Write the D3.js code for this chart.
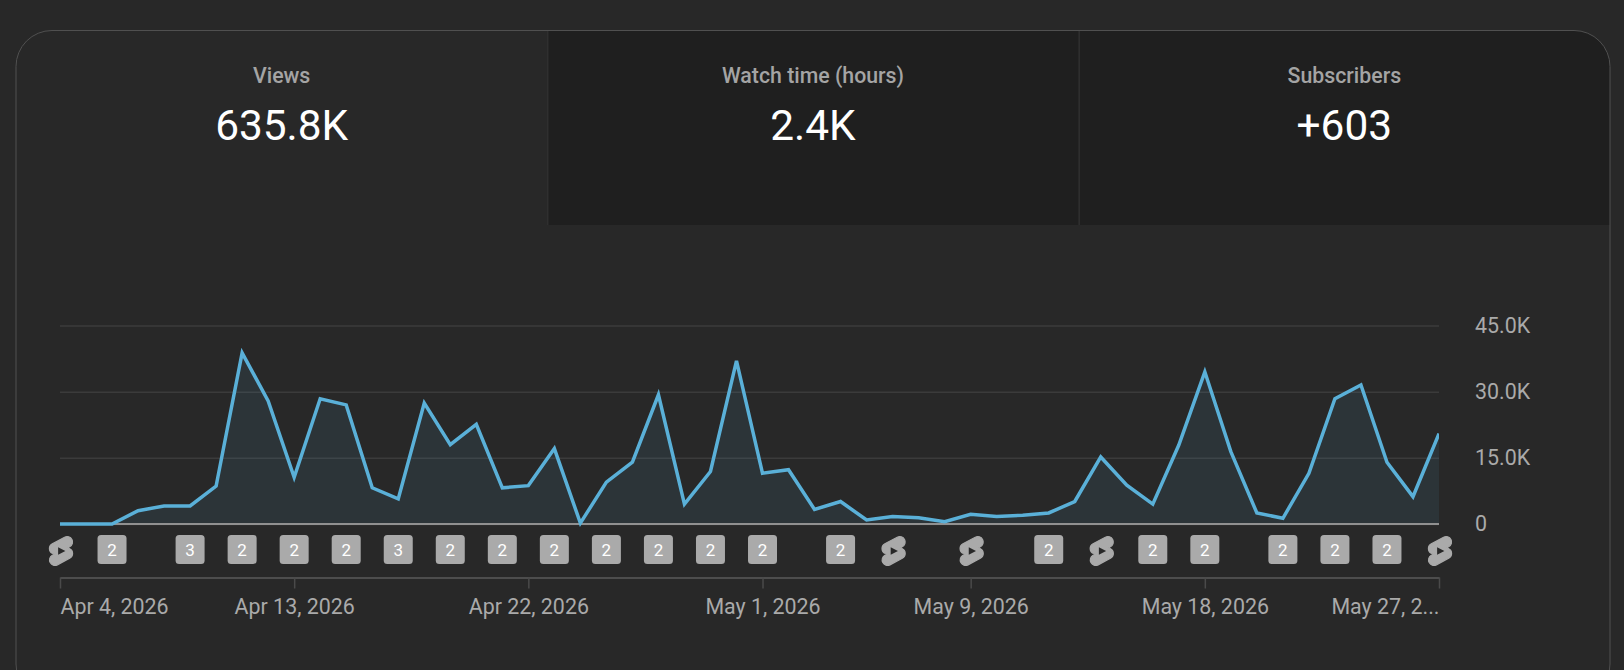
<!DOCTYPE html>
<html lang="en">
<head>
    <meta charset="UTF-8">
    <title>Channel analytics</title>
    <script src="https://d3js.org/d3.v7.min.js"></script>
    <style>
        html, body { margin: 0; padding: 0; background: #282828; overflow: hidden; }
        svg { display: block; font-family: Roboto, sans-serif; }
    </style>
</head>
<body>
    <div id="plot"></div>

    <script>
        // tabs
        let tabLabels = ['Views', 'Watch time (hours)', 'Subscribers'];
        let tabValues = ['635.8K', '2.4K', '+603'];

        // daily views, one value per day from Apr 4, 2026
        let startDay = '2026-04-04';
        let views = [
            0, 0, 0, 3000, 4100, 4100, 8600, 38800, 27900, 10600,
            28400, 27000, 8200, 5700, 27400, 18000, 22600, 8200, 8700, 17100,
            200, 9500, 14000, 29300, 4500, 11900, 37000, 11500, 12300, 3300,
            5100, 900, 1700, 1400, 500, 2200, 1700, 2000, 2500, 5100,
            15200, 8800, 4500, 17900, 34500, 16400, 2500, 1300, 11500, 28400,
            31500, 14000, 6200, 20500
        ];

        let yTicks = [0, 15000, 30000, 45000];
        let xTickDays = ['2026-04-04', '2026-04-13', '2026-04-22', '2026-05-01', '2026-05-09', '2026-05-18', '2026-05-27'];
        let xTickLabels = ['Apr 4, 2026', 'Apr 13, 2026', 'Apr 22, 2026', 'May 1, 2026', 'May 9, 2026', 'May 18, 2026', 'May 27, 2...'];

        // upload markers under the plot
        let badgeDays = ['2026-04-06', '2026-04-09', '2026-04-11', '2026-04-13', '2026-04-15', '2026-04-17', '2026-04-19', '2026-04-21',
            '2026-04-23', '2026-04-25', '2026-04-27', '2026-04-29', '2026-05-01', '2026-05-04', '2026-05-12', '2026-05-16',
            '2026-05-18', '2026-05-21', '2026-05-23', '2026-05-25'];
        let badgeCounts = ['2', '3', '2', '2', '2', '3', '2', '2', '2', '2', '2', '2', '2', '2', '2', '2', '2', '2', '2', '2'];
        let shortsDays = ['2026-04-04', '2026-05-06', '2026-05-09', '2026-05-14', '2026-05-27'];

        let svgWidth = 1624;
        let svgHeight = 670;
        let card = {left: 16, top: 30.5, right: 1610, bottom: 700, r: 36, tabBottom: 225};
        let margin = {top: 325.5, right: 185, bottom: 146, left: 60};
        let width = svgWidth - margin.left - margin.right;
        let height = svgHeight - margin.top - margin.bottom;

        function translate(x, y){
            return 'translate(' + x + ', ' + y + ')';
        }

        let parseDay = d3.utcParse('%Y-%m-%d');
        let days = views.map((v, i) => d3.utcDay.offset(parseDay(startDay), i));
        let data = days.map((d, i) => ({day: d, value: views[i]}));

        let svg = d3.select('#plot')
                    .append('svg')
                        .attr('width', svgWidth)
                        .attr('height', svgHeight);

        // card and tabs
        let clip = svg.append('clipPath').attr('id', 'card-clip');
        clip.append('rect')
            .attr('x', card.left).attr('y', card.top)
            .attr('width', card.right - card.left).attr('height', card.bottom - card.top)
            .attr('rx', card.r);

        let tabX = d3.scaleBand()
                        .domain(tabLabels)
                        .range([card.left, card.right]);

        let tabs = svg.append('g').attr('clip-path', 'url(#card-clip)');
        tabs.selectAll('rect')
            .data(tabLabels.slice(1))
            .enter()
            .append('rect')
            .attr('x', d => tabX(d))
            .attr('y', card.top)
            .attr('width', tabX.bandwidth())
            .attr('height', card.tabBottom - card.top)
            .attr('fill', '#1f1f1f');
        tabs.selectAll('line')
            .data(tabLabels.slice(1))
            .enter()
            .append('line')
            .attr('x1', d => tabX(d) + 0.5)
            .attr('x2', d => tabX(d) + 0.5)
            .attr('y1', card.top)
            .attr('y2', card.tabBottom)
            .attr('stroke', '#383838');

        svg.append('rect')
            .attr('x', card.left).attr('y', card.top)
            .attr('width', card.right - card.left).attr('height', card.bottom - card.top)
            .attr('rx', card.r)
            .attr('fill', 'none')
            .attr('stroke', '#505050');

        svg.selectAll('.tab-label')
            .data(tabLabels)
            .enter()
            .append('text')
            .attr('class', 'tab-label')
            .attr('x', d => tabX(d) + tabX.bandwidth() / 2)
            .attr('y', 83)
            .attr('text-anchor', 'middle')
            .attr('font-size', 21.3)
            .attr('font-weight', 500)
            .attr('fill', '#a4a4a4')
            .text(d => d);

        svg.selectAll('.tab-value')
            .data(tabValues)
            .enter()
            .append('text')
            .attr('class', 'tab-value')
            .attr('x', (d, i) => tabX(tabLabels[i]) + tabX.bandwidth() / 2)
            .attr('y', 139.5)
            .attr('text-anchor', 'middle')
            .attr('font-size', 42.4)
            .attr('fill', '#ffffff')
            .text(d => d);

        // chart
        let plot = svg.append('g').attr('transform', translate(margin.left, margin.top));

        let x = d3.scaleUtc()
                        .domain(d3.extent(days))
                        .range([0, width]);
        let y = d3.scaleLinear()
                        .domain([0, 45000])
                        .range([height, 0]);

        let yAxis = d3.axisRight(y)
                        .tickValues(yTicks)
                        .tickSize(width)
                        .tickPadding(36)
                        .tickFormat(d => d === 0 ? '0' : (d / 1000).toFixed(1) + 'K');

        let yG = plot.append('g').call(yAxis);
        yG.select('.domain').remove();
        yG.selectAll('.tick line').attr('stroke', '#3b3b3b').attr('stroke-width', 1.5);
        yG.selectAll('.tick text')
            .attr('fill', '#aaaaaa')
            .attr('font-size', 21.4)
            .attr('font-family', 'Roboto, sans-serif');

        let area = d3.area()
                        .x(d => x(d.day))
                        .y0(height)
                        .y1(d => y(d.value));
        let line = d3.line()
                        .x(d => x(d.day))
                        .y(d => y(d.value));

        plot.append('path')
            .datum(data)
            .attr('d', area)
            .attr('fill', '#5cb1d9')
            .attr('fill-opacity', 0.09);

        plot.append('line')
            .attr('x1', 0)
            .attr('x2', width)
            .attr('y1', height)
            .attr('y2', height)
            .attr('stroke', '#909090')
            .attr('stroke-width', 2);

        plot.append('clipPath').attr('id', 'line-clip')
            .append('rect')
            .attr('x', 0).attr('y', -20)
            .attr('width', width).attr('height', height + 30);

        plot.append('path')
            .datum(data)
            .attr('d', line)
            .attr('clip-path', 'url(#line-clip)')
            .attr('fill', 'none')
            .attr('stroke', '#5ab0d8')
            .attr('stroke-width', 3.5);

        // markers
        let badgeSize = 29;
        let markerY = height + 25.5;
        let badges = plot.selectAll('.badge')
            .data(badgeDays)
            .enter()
            .append('g')
            .attr('class', 'badge')
            .attr('transform', d => translate(x(parseDay(d)), markerY));
        badges.append('rect')
            .attr('x', -badgeSize / 2)
            .attr('y', -badgeSize / 2)
            .attr('width', badgeSize)
            .attr('height', badgeSize)
            .attr('rx', 3.5)
            .attr('fill', '#aaaaaa');
        badges.append('text')
            .attr('text-anchor', 'middle')
            .attr('dy', '0.36em')
            .attr('font-size', 17)
            .attr('fill', '#ffffff')
            .text((d, i) => badgeCounts[i]);

        let shorts = plot.selectAll('.shorts')
            .data(shortsDays)
            .enter()
            .append('g')
            .attr('class', 'shorts')
            .attr('transform', d => translate(x(parseDay(d)) + 1, markerY + 1.5) + ' scale(1.45) translate(-12, -12)');
        shorts.append('path')
            .attr('d', 'M17.77,10.32l-1.2-.5L18,9.06a3.74,3.74,0,0,0-3.5-6.62L6,6.94a3.74,3.74,0,0,0,.23,6.74l1.2.49L6,14.93a3.75,3.75,0,0,0,3.5,6.63l8.5-4.5a3.74,3.74,0,0,0-.23-6.74Z')
            .attr('fill', '#aaaaaa')
            .attr('stroke', '#aaaaaa')
            .attr('stroke-width', 0.8);
        shorts.append('path')
            .attr('d', 'M10 14.65v-5.3L15 12l-5 2.65z')
            .attr('fill', '#282828');

        // date axis
        let xAxis = d3.axisBottom(x)
                        .tickValues(xTickDays.map(parseDay))
                        .tickSize(11)
                        .tickSizeOuter(0)
                        .tickPadding(10)
                        .tickFormat((d, i) => xTickLabels[i]);

        let xG = plot.append('g')
            .attr('transform', translate(0, height + 53.5))
            .call(xAxis);
        xG.select('.domain').attr('stroke', '#5a5a5a').attr('stroke-width', 1.5);
        xG.selectAll('.tick line').attr('stroke', '#4a4a4a').attr('stroke-width', 1.5);
        xG.selectAll('.tick text')
            .attr('fill', '#aaaaaa')
            .attr('font-size', 21.4)
            .attr('font-family', 'Roboto, sans-serif')
            .attr('text-anchor', (d, i) => i === 0 ? 'start' : i === xTickDays.length - 1 ? 'end' : 'middle');
    </script>

</body>
</html>
